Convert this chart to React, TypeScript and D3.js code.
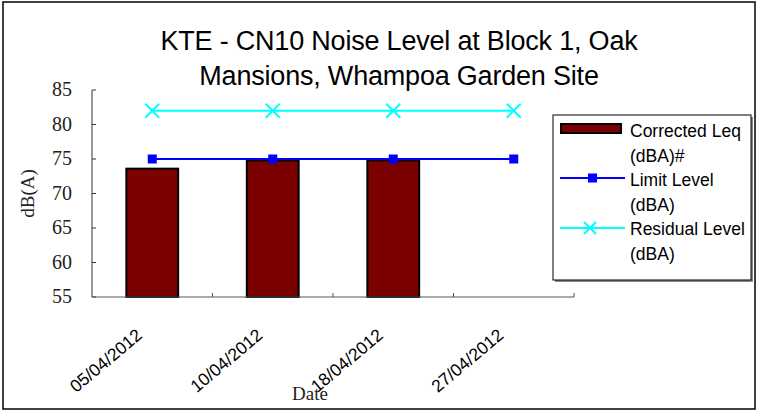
import React from "react";
import * as d3 from "d3";

const categories = ["05/04/2012", "10/04/2012", "18/04/2012", "27/04/2012"];
const correctedLeq: (number | null)[] = [73.6, 74.8, 74.8, null];
const limitLevel = [75, 75, 75, 75];
const residualLevel = [82, 82, 82, 82];
const yTicks = [55, 60, 65, 70, 75, 80, 85];
const titleLines = ["KTE - CN10 Noise Level at Block 1, Oak", "Mansions, Whampoa Garden Site"];
const legendLabels = [["Corrected Leq", "(dBA)#"], ["Limit Level", "(dBA)"], ["Residual Level", "(dBA)"]];

const W = 759, H = 413;
const plot = { left: 92, right: 574, top: 90, bottom: 297 };
const SANS = "'Liberation Sans', Arial, sans-serif";
const SERIF = "'Liberation Serif', 'Times New Roman', serif";

export default function App() {
  const x = d3.scaleBand<string>().domain(categories).range([plot.left, plot.right]).paddingInner(0).paddingOuter(0);
  const y = d3.scaleLinear().domain([55, 85]).range([plot.bottom, plot.top]);
  const cx = (c: string) => (x(c) as number) + x.bandwidth() / 2;
  const barW = x.bandwidth() * 0.43;
  const lineGen = d3.line<number>().x((_, i) => cx(categories[i])).y((d) => y(d));
  const boundaries = categories.map((c) => (x(c) as number) + x.bandwidth());

  const cross = (px: number, py: number, s: number, key: string) => (
    <g key={key} stroke="#00FFFF" strokeWidth={2}>
      <line x1={px - s} y1={py - s} x2={px + s} y2={py + s} />
      <line x1={px - s} y1={py + s} x2={px + s} y2={py - s} />
    </g>
  );

  const lg = { x: 553, y: 115, w: 198, h: 165 };
  const rowY = [137, 162, 186, 211, 235, 260];

  return (
    <svg width={W} height={H} style={{ position: "absolute", left: 0, top: 0, background: "#fff" }}>
      <rect x={3} y={2} width={752} height={407} fill="#fff" stroke="#000" strokeWidth={1.5} />
      {titleLines.map((t, i) => (
        <text key={i} x={399} y={50 + i * 35} textAnchor="middle" fontFamily={SANS} fontSize={27} fill="#000" letterSpacing={-0.2}>
          {t}
        </text>
      ))}
      {/* y axis */}
      <line x1={plot.left} y1={plot.top} x2={plot.left} y2={plot.bottom} stroke="#333" strokeWidth={1} />
      {yTicks.map((t) => (
        <g key={t}>
          <line x1={plot.left} x2={plot.left + 4} y1={y(t)} y2={y(t)} stroke="#333" />
          <text x={72} y={y(t) + 6} textAnchor="end" fontFamily={SERIF} fontSize={20} fill="#222">
            {t}
          </text>
        </g>
      ))}
      <text transform={`translate(34,${(plot.top + plot.bottom) / 2}) rotate(-90)`} textAnchor="middle" fontFamily={SERIF} fontSize={19} fill="#222">
        dB(A)
      </text>
      {/* bars */}
      {categories.map((c, i) =>
        correctedLeq[i] == null ? null : (
          <rect key={c} x={cx(c) - barW / 2} y={y(correctedLeq[i] as number)} width={barW} height={plot.bottom - y(correctedLeq[i] as number)} fill="#7B0000" stroke="#000" strokeWidth={2} />
        )
      )}
      {/* x axis */}
      <line x1={plot.left} y1={plot.bottom} x2={plot.right} y2={plot.bottom} stroke="#555" strokeWidth={1} />
      {boundaries.map((b, i) => (
        <line key={i} x1={b} x2={b} y1={plot.bottom} y2={plot.bottom - 4} stroke="#555" />
      ))}
      {categories.map((c) => (
        <text key={c} transform={`translate(${cx(c) - 9},${plot.bottom + 40}) rotate(-40)`} textAnchor="end" fontFamily={SANS} fontSize={17.5} fill="#000">
          {c}
        </text>
      ))}
      <text x={310} y={400} textAnchor="middle" fontFamily={SERIF} fontSize={19} fill="#222">
        Date
      </text>
      {/* limit */}
      <path d={lineGen(limitLevel) as string} fill="none" stroke="#0000FF" strokeWidth={2} />
      {limitLevel.map((v, i) => (
        <rect key={i} x={cx(categories[i]) - 4.5} y={y(v) - 4.5} width={9} height={9} fill="#0000FF" />
      ))}
      {/* residual */}
      <path d={lineGen(residualLevel) as string} fill="none" stroke="#00FFFF" strokeWidth={2} />
      {residualLevel.map((v, i) => cross(cx(categories[i]), y(v), 7, "r" + i))}
      {/* legend */}
      <rect x={lg.x + 2} y={lg.y + 2} width={lg.w} height={lg.h} fill="#888" />
      <rect x={lg.x} y={lg.y} width={lg.w} height={lg.h} fill="#fff" stroke="#000" strokeWidth={1} />
      <rect x={561} y={124} width={60} height={9} fill="#7B0000" stroke="#000" strokeWidth={2} />
      <line x1={560} x2={625} y1={178} y2={178} stroke="#0000FF" strokeWidth={2} />
      <rect x={588} y={173.5} width={9} height={9} fill="#0000FF" />
      <line x1={560} x2={625} y1={228} y2={228} stroke="#00FFFF" strokeWidth={2} />
      {cross(590, 228, 6, "lg")}
      {legendLabels.flat().map((t, i) => (
        <text key={i} x={630} y={rowY[i]} fontFamily={SANS} fontSize={17.5} fill="#000">
          {t}
        </text>
      ))}
    </svg>
  );
}
